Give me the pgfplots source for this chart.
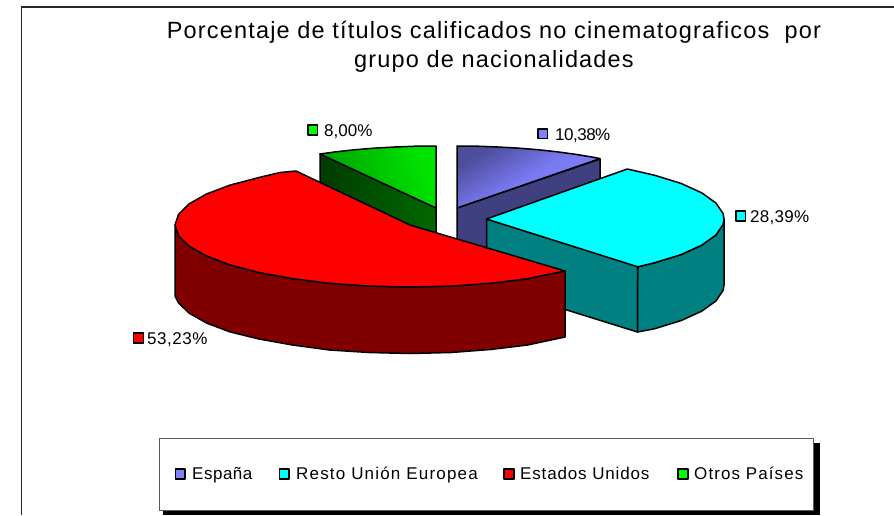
\documentclass[border=0pt]{standalone}
\usepackage{fontspec}
\setmainfont{Liberation Sans}
\usepackage{pgfplots}
\pgfplotsset{compat=1.18}
\definecolor{azul}{RGB}{128,128,255}
\definecolor{azulosc}{RGB}{64,64,128}
\definecolor{cian}{RGB}{0,255,255}
\definecolor{cianosc}{RGB}{0,128,128}
\definecolor{rojo}{RGB}{255,0,0}
\definecolor{rojoosc}{RGB}{128,0,0}
\definecolor{verde}{RGB}{0,255,0}
\definecolor{verdeosc}{RGB}{0,128,0}
\newfontfamily\ltitle[LetterSpace=5]{Liberation Sans}
\newfontfamily\lesp[LetterSpace=3]{Liberation Sans}
\newfontfamily\lres[LetterSpace=7]{Liberation Sans}
\newfontfamily\lest[LetterSpace=5]{Liberation Sans}
\newfontfamily\lotr[LetterSpace=6.4]{Liberation Sans}
\newfontfamily\ldiez[LetterSpace=-3]{Liberation Sans}
\newfontfamily\lroj[LetterSpace=3]{Liberation Sans}
\newfontfamily\lcia[LetterSpace=1.5]{Liberation Sans}
\tikzset{etiq/.style={anchor=base west, inner sep=0pt, font=\fontsize{17}{19}\selectfont}}
\begin{document}
\begin{tikzpicture}
\path[use as bounding box] (0,0) rectangle (894pt,515pt);
\begin{axis}[
at={(0,0)}, anchor=south west,
scale only axis, width=894pt, height=515pt,
xmin=0, xmax=894, ymin=0, ymax=515, y dir=reverse,
axis lines=none, clip=true,
every axis plot/.append style={line join=round},
]
% marco
\addplot[black!85, line width=1.4pt] coordinates {(21.5,515) (21.5,7) (894,7)};
% verde
\addplot[draw=black, line width=1.5pt, left color={rgb,255:red,0;green,60;blue,0}, middle color={rgb,255:red,0;green,128;blue,0}, right color={rgb,255:red,0;green,105;blue,0}] coordinates {(320,154) (436,208) (436,274) (320,220)} -- cycle;
\addplot[draw=black, line width=1.5pt, left color=verdeosc!75!verde, middle color=verde, right color=verde!90!black, shading angle=110] coordinates {(320,154) (335.8,151.8) (355,149.7) (374.7,148.1) (394.8,147) (415.3,146.2) (436,146) (436,208)} -- cycle;
% azul
\addplot[draw=black, line width=1.5pt, fill=azulosc] coordinates {(457,208) (600,159) (600,225) (457,274)} -- cycle;
\addplot[draw=black, line width=1.5pt, top color=azulosc!80!azul, bottom color=azul, middle color=azul!95!black, shading angle=30] coordinates {(457,146) (477.7,146.2) (498.2,147) (518.3,148.1) (538,149.7) (557.2,151.8) (575.5,154.3) (593,157.2) (600,158.6) (457,208)} -- cycle;
% cian
\addplot[draw=black, line width=1.5pt, fill=cianosc] coordinates {(486.5,219) (637.5,266) (637.5,332) (486.5,285)} -- cycle;
\addplot[draw=black, line width=1.5pt, fill=cianosc] coordinates {(637.8,266.8) (654.4,262.8) (681,254.6) (701.7,245.2) (715.9,235) (723.1,224.4) (724,219) (724,285) (723.1,290.4) (715.9,301) (701.7,311.2) (681,320.6) (654.4,328.8) (637.5,332)} -- cycle;
\addplot[draw=black, line width=1.5pt, fill=cian] coordinates {(486.5,219) (627.3,169) (654.4,175.2) (681,183.4) (701.7,192.8) (715.9,203) (723.1,213.6) (724,219) (723.1,224.4) (715.9,235) (701.7,245.2) (681,254.6) (654.4,262.8) (637.8,266.8)} -- cycle;
% rojo
\addplot[draw=black, line width=1.5pt, fill=rojoosc] coordinates {(565,271) (527.5,278.7) (490.4,283.3) (450.8,286.1) (410,287) (369.2,286.1) (329.6,283.3) (292.5,278.7) (259,272.5) (230,264.9) (206.5,256) (189.2,246.2) (178.6,235.8) (175,225) (175,296) (178.6,303) (189.2,313.2) (206.5,323) (230,331.9) (259,339) (292.5,345) (329.6,350) (369.2,352.5) (410,353.5) (450.8,352.5) (490.4,349.5) (527.5,345) (565,337)} -- cycle;
\addplot[draw=black, line width=1.5pt, fill=rojo] coordinates {(296,171) (410,225) (565,271) (527.5,278.7) (490.4,283.3) (450.8,286.1) (410,287) (369.2,286.1) (329.6,283.3) (292.5,278.7) (259,272.5) (230,264.9) (206.5,256) (189.2,246.2) (178.6,235.8) (175,225) (178.6,214.2) (189.2,203.8) (206.5,194) (230,185.1) (259,177.5) (280,172.5)} -- cycle;
% leyenda
\addplot[fill=black, draw=none] coordinates {(163,443) (820,443) (820,515) (163,515)} -- cycle;
\addplot[fill=white, draw=black!65, line width=1pt] coordinates {(159.5,438.7) (813.7,438.7) (813.7,510.7) (159.5,510.7)} -- cycle;
% marcas
\addplot[only marks, mark=square*, mark size=4.9pt, mark options={draw=black, line width=1.5pt, fill=azul}] coordinates {(542.7,133.7) (180.3,474)};
\addplot[only marks, mark=square*, mark size=4.9pt, mark options={draw=black, line width=1.5pt, fill=cian}] coordinates {(740.7,216) (284.3,474)};
\addplot[only marks, mark=square*, mark size=4.9pt, mark options={draw=black, line width=1.5pt, fill=rojo}] coordinates {(138.5,338) (509,474)};
\addplot[only marks, mark=square*, mark size=4.9pt, mark options={draw=black, line width=1.5pt, fill=verde}] coordinates {(312.7,130) (683,474)};
% textos
\node[font=\ltitle\fontsize{23.5}{29}\selectfont, align=center] at (axis cs:494,47) {Porcentaje de títulos calificados no cinematograficos~ por\\grupo de nacionalidades};
\node[etiq, font=\ldiez\fontsize{17}{19}\selectfont] at (axis cs:555,140) {10,38\%};
\node[etiq, font=\lcia\fontsize{17}{19}\selectfont] at (axis cs:750,222) {28,39\%};
\node[etiq, font=\lroj\fontsize{17}{19}\selectfont] at (axis cs:147,344) {53,23\%};
\node[etiq] at (axis cs:324,136) {8,00\%};
\node[etiq, font=\lesp\fontsize{17}{19}\selectfont] at (axis cs:192,479.5) {España};
\node[etiq, font=\lres\fontsize{17}{19}\selectfont] at (axis cs:296,479.5) {Resto Unión Europea};
\node[etiq, font=\lest\fontsize{17}{19}\selectfont] at (axis cs:520,479.5) {Estados Unidos};
\node[etiq, font=\lotr\fontsize{17}{19}\selectfont] at (axis cs:694,479.5) {Otros Países};
\end{axis}
\end{tikzpicture}
\end{document}
